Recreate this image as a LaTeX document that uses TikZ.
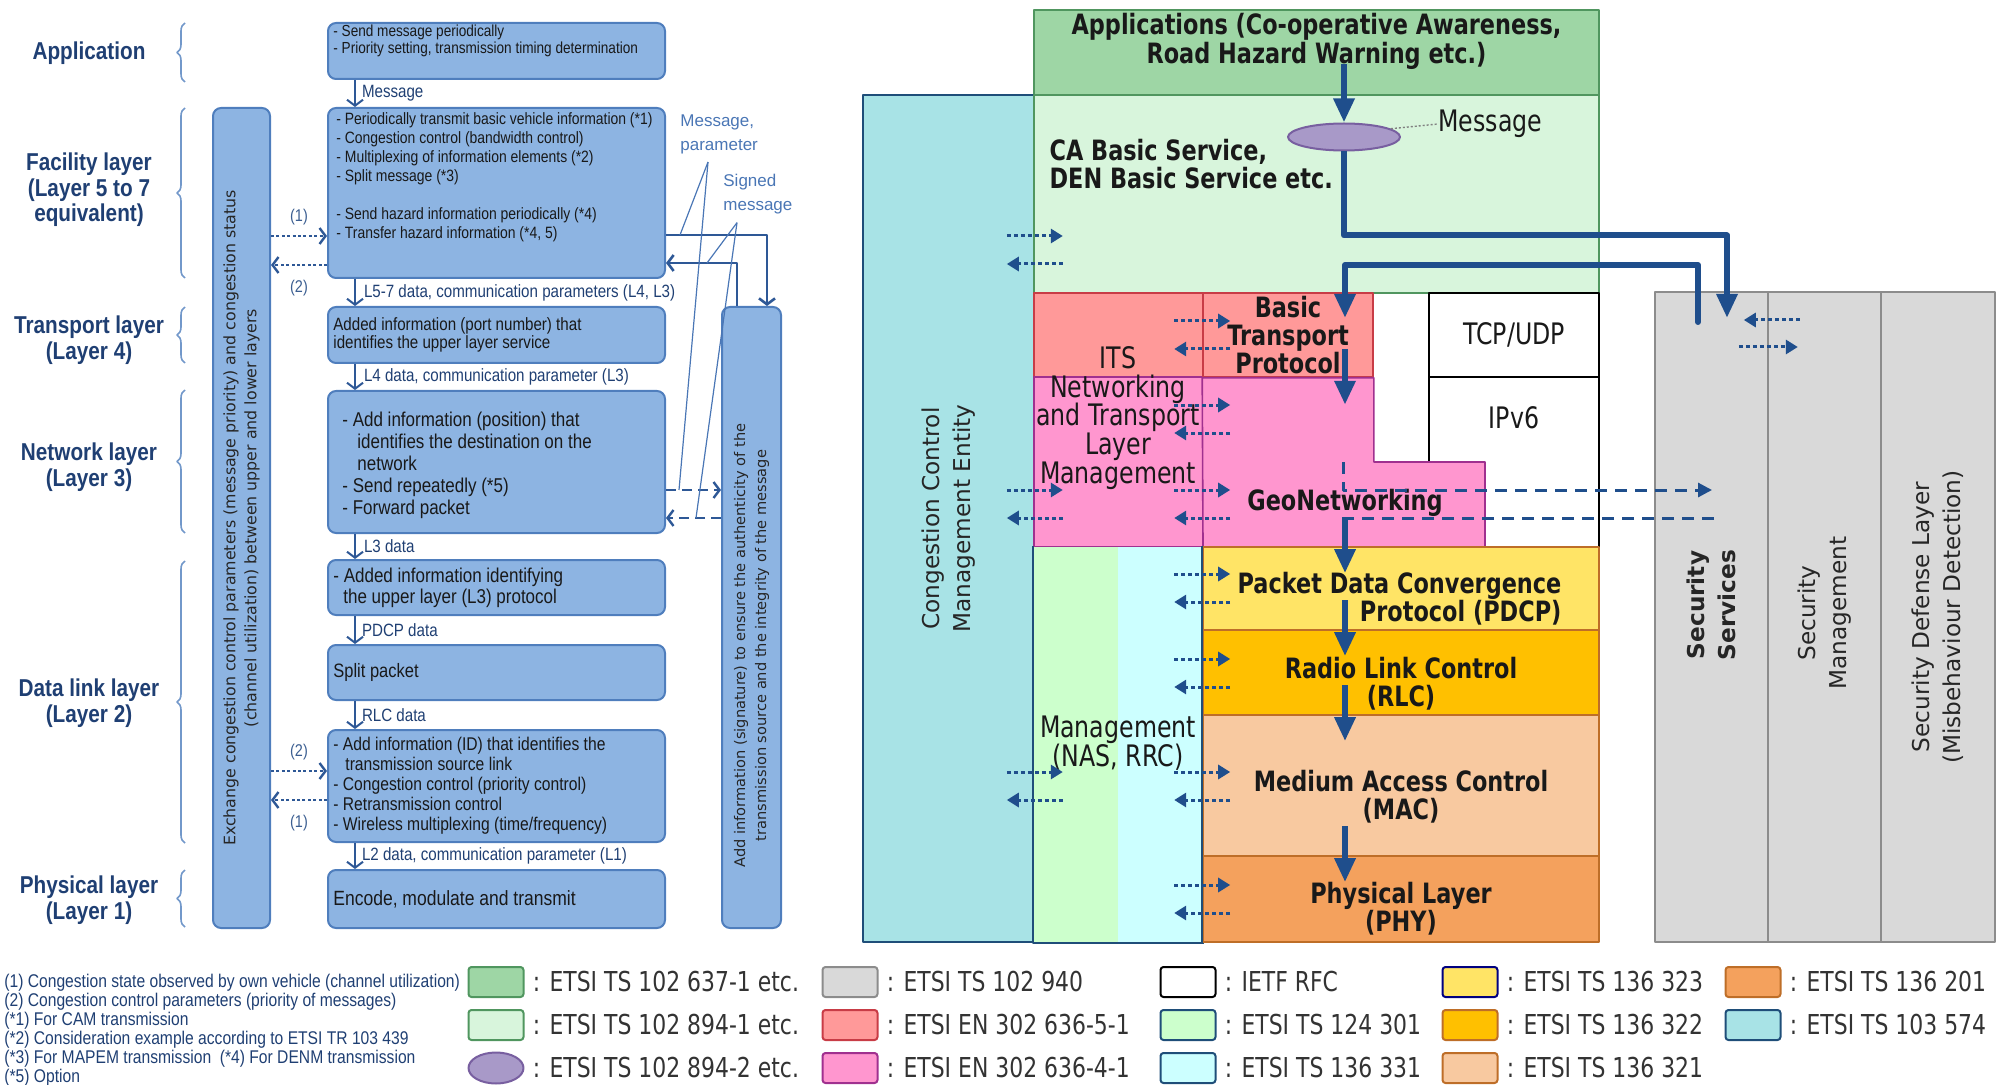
\documentclass[tikz,border=0pt]{standalone}
\usepackage{fontspec}
\setmainfont{Liberation Sans}
\newfontfamily\narrowfont[FakeStretch=0.85]{Liberation Sans}
\newfontfamily\stackfont[FakeStretch=0.8]{DejaVu Sans}
\newfontfamily\widefont{DejaVu Sans}
\usetikzlibrary{arrows.meta, positioning, fit, calc, decorations.pathreplacing, shapes.geometric}
\newcommand{\fsz}[2]{\fontsize{#1}{#2}\selectfont}
% left column (ARIB style flow)
\definecolor{lboxfill}{RGB}{141,180,226}
\definecolor{lboxline}{RGB}{79,126,189}
\definecolor{laytxt}{RGB}{31,63,115}
\definecolor{arrline}{RGB}{46,88,150}
\definecolor{calltxt}{RGB}{74,118,181}
% right column (ETSI stack)
\definecolor{flow}{RGB}{31,78,140}
\definecolor{appgreen}{RGB}{158,214,165}
\definecolor{appline}{RGB}{80,150,95}
\definecolor{facgreen}{RGB}{216,245,220}
\definecolor{ccmecyan}{RGB}{168,227,230}
\definecolor{navy}{RGB}{31,78,121}
\definecolor{itsred}{RGB}{255,153,153}
\definecolor{itsredline}{RGB}{200,60,70}
\definecolor{itspink}{RGB}{255,150,207}
\definecolor{itspinkline}{RGB}{160,48,143}
\definecolor{mgmtgreen}{RGB}{204,255,204}
\definecolor{mgmtcyan}{RGB}{204,255,255}
\definecolor{pdcpyellow}{RGB}{255,228,102}
\definecolor{rlcorange}{RGB}{255,192,0}
\definecolor{maclight}{RGB}{248,201,160}
\definecolor{phyorange}{RGB}{244,161,93}
\definecolor{stackline}{RGB}{190,110,40}
\definecolor{secgray}{RGB}{217,217,217}
\definecolor{secline}{RGB}{140,140,140}
\definecolor{msgpurple}{RGB}{168,153,200}
\definecolor{msgline}{RGB}{120,95,160}
\tikzset{
  lbox/.style={draw=lboxline, fill=lboxfill, line width=1pt, rounded corners=4pt, inner sep=0pt},
  ltext/.style={align=left, inner sep=0pt, anchor=west, text=black!90},
  layer/.style={font=\narrowfont\bfseries\fsz{12.2}{12.8}, text=laytxt, align=center},
  flowlbl/.style={font=\narrowfont\fsz{8.9}{10}, text=laytxt, anchor=west, inner sep=0pt},
  numlbl/.style={font=\narrowfont\fsz{8.5}{10}, text=calltxt!80!black, inner sep=0pt},
  downarr/.style={-{Straight Barb[length=3pt,width=8pt]}, line width=1pt, draw=arrline},
  brc/.style={decorate, decoration={brace, amplitude=4pt}, draw=lboxline!80, line width=0.8pt},
  cngarr/.style={-{Straight Barb[length=3pt,width=8pt]}, line width=1.2pt, draw=arrline,
    dash pattern=on 1.5pt off 1.2pt},
  sigarr/.style={-{Straight Barb[length=3pt,width=8pt]}, line width=1.2pt, draw=arrline,
    dash pattern=on 5pt off 3pt},
  sigline/.style={-{Straight Barb[length=3pt,width=8pt]}, line width=1.3pt, draw=arrline},
  call/.style={draw=calltxt, line width=0.6pt},
  calltext/.style={font=\fsz{8.5}{12}, text=calltxt, align=left, anchor=north west, inner sep=0pt},
  vtext/.style={font=\widefont\fsz{7.9}{10.5}, text=black!85, align=center, rotate=90},
  blk/.style={line width=0.8pt, inner sep=0pt},
  blktext/.style={font=\stackfont\fsz{14.8}{14.4}, align=center, inner sep=0pt, text=black!90},
  blkbold/.style={blktext, font=\stackfont\bfseries\fsz{14}{14}},
  sectext/.style={font=\widefont\fsz{11.6}{15.5}, align=center, rotate=90, text=black!85},
  flowarr/.style={-{Triangle[length=12pt,width=10pt]}, line width=3pt, draw=flow},
  ifarr/.style={-{Triangle[length=6pt,width=7pt]}, line width=1.5pt, draw=flow,
    dash pattern=on 2pt off 1.5pt},
  gsarr/.style={-{Triangle[length=7pt,width=7pt]}, line width=1.5pt, draw=flow,
    dash pattern=on 6pt off 4pt},
  gsdash/.style={line width=1.5pt, draw=flow, dash pattern=on 6pt off 4pt},
  swatch/.style={rectangle, rounded corners=1.5pt, line width=1pt, minimum width=27.5pt,
    minimum height=15pt, inner sep=0pt},
  lgtext/.style={font=\stackfont\fsz{13.7}{15}, text=black!80, inner sep=0pt, anchor=west},
  note/.style={font=\narrowfont\fsz{9.2}{9.5}, text=laytxt, align=left, inner sep=0pt}
}
\begin{document}
\begin{tikzpicture}[x=0.5pt, y=-0.5pt, line join=round]
  \useasboundingbox (0,0) rectangle (2001,1085);

  % layer names with braces
  \node[layer] (lapp) at (89,53) {Application};
  \node[layer] (lfac) at (89,190) {Facility layer\\(Layer 5 to 7\\equivalent)};
  \node[layer] (ltrn) at (89,340) {Transport layer\\(Layer 4)};
  \node[layer] (lnet) at (89,467) {Network layer\\(Layer 3)};
  \node[layer] (ldl) at (89,703) {Data link layer\\(Layer 2)};
  \node[layer] (lphy) at (89,900) {Physical layer\\(Layer 1)};
  \foreach \ya/\yb in {23/82, 108/278, 307/363, 390/533, 561/843, 870/927}
    \draw[brc] (185,\yb) -- (185,\ya);

  % processing boxes
  \node[lbox, fit={(328,23) (665,79)}] (app) {};
  \node[lbox, fit={(328,108) (665,278)}] (fac) {};
  \node[lbox, fit={(328,307) (665,363)}] (trn) {};
  \node[lbox, fit={(328,391) (665,533)}] (net) {};
  \node[lbox, fit={(328,560) (665,615)}] (dla) {};
  \node[lbox, fit={(328,645) (665,700)}] (dlb) {};
  \node[lbox, fit={(328,730) (665,842)}] (dlc) {};
  \node[lbox, fit={(328,870) (665,928)}] (phy) {};
  \node[lbox, fit={(213,108) (270,928)}] (cong) {};
  \node[lbox, fit={(722,307) (781,928)}] (sign) {};

  \node[ltext, anchor=north west, font=\narrowfont\fsz{8}{6.4}] at ([xshift=3pt,yshift=-1.5pt]app.north west)
    {- Send message periodically\\- Priority setting, transmission timing determination};
  \node[ltext, anchor=north west, font=\narrowfont\fsz{8.2}{9.5}] at ([xshift=4.5pt,yshift=-2.5pt]fac.north west)
    {- Periodically transmit basic vehicle information (*1)\\- Congestion control (bandwidth control)\\
     - Multiplexing of information elements (*2)\\- Split message (*3)\\[9.5pt]
     - Send hazard information periodically (*4)\\- Transfer hazard information (*4, 5)};
  \node[ltext, font=\narrowfont\fsz{8.9}{9}] at ([xshift=3pt]trn.west)
    {Added information (port number) that\\identifies the upper layer service};
  \node[ltext, font=\narrowfont\fsz{10}{11}] at ([xshift=7.5pt,yshift=-1.5pt]net.west)
    {- Add information (position) that\\\hspace*{7.5pt}identifies the destination on the\\\hspace*{7.5pt}network\\
     - Send repeatedly (*5)\\- Forward packet};
  \node[ltext, font=\narrowfont\fsz{10}{10.5}] at ([xshift=3pt]dla.west)
    {- Added information identifying\\\hspace*{5pt}the upper layer (L3) protocol};
  \node[ltext, font=\narrowfont\fsz{9.7}{11}] at ([xshift=3pt]dlb.west) {Split packet};
  \node[ltext, font=\narrowfont\fsz{9.2}{10}] at ([xshift=3pt]dlc.west)
    {- Add information (ID) that identifies the\\\hspace*{6pt}transmission source link\\
     - Congestion control (priority control)\\- Retransmission control\\
     - Wireless multiplexing (time/frequency)};
  \node[ltext, font=\narrowfont\fsz{10.3}{11}] at ([xshift=3pt]phy.west) {Encode, modulate and transmit};

  \node[vtext] at (cong.center)
    {Exchange congestion control parameters (message priority) and congestion status\\
     (channel utilization) between upper and lower layers};
  \node[vtext, font=\widefont\fsz{7.3}{10.5}] at ([yshift=-14pt]sign.center)
    {Add information (signature) to ensure the authenticity of the\\
     transmission source and the integrity of the message};

  % data handed down the layers
  \coordinate (ax) at (355,0);
  \draw[downarr] (app.south -| ax) -- node[flowlbl, right=3pt]{Message} (fac.north -| ax);
  \draw[downarr] (fac.south -| ax) -- node[flowlbl, right=4pt]{L5-7 data, communication parameters (L4, L3)} (trn.north -| ax);
  \draw[downarr] (trn.south -| ax) -- node[flowlbl, right=4pt]{L4 data, communication parameter (L3)} (net.north -| ax);
  \draw[downarr] (net.south -| ax) -- node[flowlbl, right=4pt]{L3 data} (dla.north -| ax);
  \draw[downarr] (dla.south -| ax) -- node[flowlbl, right=3pt]{PDCP data} (dlb.north -| ax);
  \draw[downarr] (dlb.south -| ax) -- node[flowlbl, right=3pt]{RLC data} (dlc.north -| ax);
  \draw[downarr] (dlc.south -| ax) -- node[flowlbl, right=3pt]{L2 data, communication parameter (L1)} (phy.north -| ax);

  % congestion information exchange
  \draw[cngarr] ([yshift=-21.5pt]fac.west -| cong.east) -- node[numlbl, above=5pt]{(1)} ([yshift=-21.5pt]fac.west);
  \draw[cngarr] ([yshift=-36pt]fac.west) -- node[numlbl, below=7pt]{(2)} ([yshift=-36pt]fac.west -| cong.east);
  \draw[cngarr] ([yshift=7.5pt]dlc.west -| cong.east) -- node[numlbl, above=5pt]{(2)} ([yshift=7.5pt]dlc.west);
  \draw[cngarr] ([yshift=-7pt]dlc.west) -- node[numlbl, below=7pt]{(1)} ([yshift=-7pt]dlc.west -| cong.east);

  % signing path
  \draw[sigline] ([yshift=-21pt]fac.east) -| ([xshift=7.75pt]sign.north);
  \draw[sigline] ([xshift=-7.25pt]sign.north) |- ([yshift=-35pt]fac.east);
  \draw[sigarr] ([yshift=-14pt]net.east) -- ([yshift=-14pt]net.east -| sign.west);
  \draw[sigarr] ([yshift=-28pt]net.east -| sign.west) -- ([yshift=-28pt]net.east);

  \node[calltext] (mp) at (680,114) {Message,\\parameter};
  \node[calltext] (sm) at (723,174) {Signed\\message};
  \draw[call] ([xshift=14pt,yshift=-4pt]mp.south west) -- ([xshift=7pt,yshift=-21pt]fac.east);
  \draw[call] ([xshift=14pt,yshift=-4pt]mp.south west) -- ([xshift=6.5pt,yshift=-14pt]net.east);
  \draw[call] ([xshift=7pt,yshift=-4pt]sm.south west) -- ([xshift=20.5pt,yshift=-35pt]fac.east);
  \draw[call] ([xshift=7pt,yshift=-4pt]sm.south west) -- ([xshift=15pt,yshift=-28pt]net.east);

  % ---------- ITS station stack
  \node[blk, draw=appline, fill=appgreen, fit={(1034,10) (1599,95)}] (apps) {};
  \node[blk, draw=navy, fill=ccmecyan, fit={(863,95) (1034,942)}] (ccme) {};
  \node[blk, draw=appline, fill=facgreen, fit={(1034,95) (1599,293)}] (facil) {};
  \node[blk, draw=itsredline, fill=itsred, fit={(1034,293) (1203,377)}] (itsup) {};
  \node[blk, draw=itspinkline, fill=itspink, fit={(1034,377) (1203,547)}] (itslo) {};
  \node[blk, draw=black, fill=white, fit={(1429,293) (1599,377)}] (tcp) {};
  \node[blk, draw=black, fill=white, fit={(1429,377) (1599,547)}] (ipv6) {};
  \node[blk, draw=itsredline, fill=itsred, fit={(1203,293) (1373,377)}] (btp) {};
  \draw[blk, draw=itspinkline, fill=itspink]
    (btp.south west) -- (btp.south east) |- (1485,462) |- (1203,547) -- cycle;
  \node[blk, fill=mgmtgreen, fit={(1034,547) (1118,942)}] (mgmtl) {};
  \node[blk, fill=mgmtcyan, fit={(1118,547) (1203,942)}] (mgmtr) {};
  \draw[blk, navy] (mgmtl.north west) |- (mgmtr.south east);
  \node[blk, draw=stackline, fill=pdcpyellow, fit={(1203,547) (1599,630)}] (pdcp) {};
  \node[blk, draw=stackline, fill=rlcorange, fit={(1203,630) (1599,715)}] (rlc) {};
  \node[blk, draw=stackline, fill=maclight, fit={(1203,715) (1599,856)}] (mac) {};
  \node[blk, draw=stackline, fill=phyorange, fit={(1203,856) (1599,942)}] (phyl) {};
  \draw[blk, navy] (pdcp.north west) -- (phyl.south west);
  \node[blk, draw=secline, fill=secgray, fit={(1655,292) (1768,942)}] (secsvc) {};
  \node[blk, draw=secline, fill=secgray, fit={(1768,292) (1881,942)}] (secmgmt) {};
  \node[blk, draw=secline, fill=secgray, fit={(1881,292) (1995,942)}] (secdef) {};

  \node[blkbold, font=\stackfont\bfseries\fsz{14}{14.5}] at ([yshift=5.5pt]apps.center)
    {Applications (Co-operative Awareness,\\Road Hazard Warning etc.)};
  \node[blkbold, align=left, anchor=west] at ([xshift=8pt,yshift=15pt]facil.west)
    {CA Basic Service,\\DEN Basic Service etc.};
  \node[blktext] at (1118,418) {ITS\\Networking\\and Transport\\Layer\\Management};
  \node[blkbold] at (btp.center) {Basic\\Transport\\Protocol};
  \node[blkbold] (geonet) at (1345,503) {GeoNetworking};
  \node[blktext] at (tcp.center) {TCP/UDP};
  \node[blktext] at ([yshift=22pt]ipv6.center) {IPv6};
  \node[blktext] at (1118,743) {Management\\(NAS, RRC)};
  \node[blkbold, align=right, anchor=east] at ([xshift=-19pt,yshift=-5.25pt]pdcp.east)
    {Packet Data Convergence\\Protocol (PDCP)};
  \node[blkbold] at ([yshift=-5.75pt]rlc.center) {Radio Link Control\\(RLC)};
  \node[blkbold] at ([yshift=-5.75pt]mac.center) {Medium Access Control\\(MAC)};
  \node[blkbold] at ([yshift=-5pt]phyl.center) {Physical Layer\\(PHY)};
  \node[sectext] at (ccme.center) {Congestion Control\\Management Entity};
  \node[sectext, font=\widefont\bfseries\fsz{11.6}{15.5}] at ([yshift=6pt]secsvc.center) {Security\\Services};
  \node[sectext] at ([yshift=2pt]secmgmt.center) {Security\\Management};
  \node[sectext] at (secdef.center) {Security Defense Layer\\(Misbehaviour Detection)};

  % message flow through the stack
  \node[ellipse, draw=msgline, fill=msgpurple, line width=1pt, minimum width=56pt,
    minimum height=13.5pt, inner sep=0pt] (msg) at (1344,137) {};
  \node[blktext, anchor=west] (msglbl) at (1438,124) {Message};
  \draw[gray, line width=0.7pt, dash pattern=on 1pt off 1pt] (msg.10) -- (msglbl.west);

  \coordinate (spine) at (1345,0);
  \coordinate (secin) at (1727,318);
  \coordinate (secout) at (1698,322);
  \coordinate (btpin) at (1345,318);
  \draw[flowarr] ([yshift=16pt]apps.south -| msg) -- (msg.north);
  \draw[flowarr] (msg.south) -- ++(0,84) -| (secin);
  \draw[flowarr, line cap=round] (secout) -- ++(0,-57) -| (btpin);
  \foreach \a in {btp.south, pdcp.north, rlc.north, mac.north, phyl.north}
    \draw[flowarr] ($(\a -| spine)+(0,-29)$) -- ($(\a -| spine)+(0,27)$);

  % GeoNetworking <-> security services
  \coordinate (gsup) at (1343,462);
  \coordinate (gsin) at (1712,490);
  \coordinate (gsout) at (1714,518);
  \coordinate (gsret) at (1343,518);
  \draw[gsarr] (gsup) |- (gsin);
  \draw[gsdash] (gsout) -- (gsret);

  % management interfaces
  \foreach \n/\ya/\yb in {ccme.east/236/264, ccme.east/490/518, ccme.east/772/800,
      pdcp.west/321/349, pdcp.west/405/433, pdcp.west/490/518, pdcp.west/574/602,
      pdcp.west/659/687, pdcp.west/772/800, pdcp.west/885/913}{
    \coordinate (ia) at (0,\ya);
    \coordinate (ib) at (0,\yb);
    \draw[ifarr] ([xshift=-14pt]\n |- ia) -- ([xshift=14pt]\n |- ia);
    \draw[ifarr] ([xshift=14pt]\n |- ib) -- ([xshift=-14pt]\n |- ib);
  }
  \coordinate (sa) at (0,320);
  \coordinate (sb) at (0,347);
  \draw[ifarr] ([xshift=15.5pt]secsvc.east |- sa) -- ([xshift=-12.5pt]secsvc.east |- sa);
  \draw[ifarr] ([xshift=-15pt]secsvc.east |- sb) -- ([xshift=14.5pt]secsvc.east |- sb);

  % ---------- legend
  \node[note, anchor=north west] (notes) at (4,974)
    {(1) Congestion state observed by own vehicle (channel utilization)\\
     (2) Congestion control parameters (priority of messages)\\
     (*1) For CAM transmission\\
     (*2) Consideration example according to ETSI TR 103 439\\
     (*3) For MAPEM transmission\ \ (*4) For DENM transmission\\
     (*5) Option};

  \node[swatch, fill=appgreen, draw=appline] (lga) at (496,982) {};
  \node[swatch, fill=facgreen, draw=appline] (lgb) at (496,1025) {};
  \node[ellipse, fill=msgpurple, draw=msgline, line width=1pt, minimum width=27.5pt,
    minimum height=15.5pt, inner sep=0pt] (lgc) at (496,1068) {};
  \node[swatch, fill=secgray, draw=secline] (lgd) at (850,982) {};
  \node[swatch, fill=itsred, draw=itsredline] (lge) at (850,1025) {};
  \node[swatch, fill=itspink, draw=itspinkline] (lgf) at (850,1068) {};
  \node[swatch, fill=white, draw=black] (lgg) at (1188,982) {};
  \node[swatch, fill=mgmtgreen, draw=navy] (lgh) at (1188,1025) {};
  \node[swatch, fill=mgmtcyan, draw=navy] (lgi) at (1188,1068) {};
  \node[swatch, fill=pdcpyellow, draw=blue!50!black] (lgj) at (1470,982) {};
  \node[swatch, fill=rlcorange, draw=stackline] (lgk) at (1470,1025) {};
  \node[swatch, fill=maclight, draw=stackline] (lgl) at (1470,1068) {};
  \node[swatch, fill=phyorange, draw=stackline] (lgm) at (1753,982) {};
  \node[swatch, fill=ccmecyan, draw=navy] (lgn) at (1753,1025) {};

  \node[lgtext, right=4pt of lga] {: ETSI TS 102 637-1 etc.};
  \node[lgtext, right=4pt of lgb] {: ETSI TS 102 894-1 etc.};
  \node[lgtext, right=4pt of lgc] {: ETSI TS 102 894-2 etc.};
  \node[lgtext, right=4pt of lgd] {: ETSI TS 102 940};
  \node[lgtext, right=4pt of lge] {: ETSI EN 302 636-5-1};
  \node[lgtext, right=4pt of lgf] {: ETSI EN 302 636-4-1};
  \node[lgtext, right=4pt of lgg] {: IETF RFC};
  \node[lgtext, right=4pt of lgh] {: ETSI TS 124 301};
  \node[lgtext, right=4pt of lgi] {: ETSI TS 136 331};
  \node[lgtext, right=4pt of lgj] {: ETSI TS 136 323};
  \node[lgtext, right=4pt of lgk] {: ETSI TS 136 322};
  \node[lgtext, right=4pt of lgl] {: ETSI TS 136 321};
  \node[lgtext, right=4pt of lgm] {: ETSI TS 136 201};
  \node[lgtext, right=4pt of lgn] {: ETSI TS 103 574};
\end{tikzpicture}
\end{document}
